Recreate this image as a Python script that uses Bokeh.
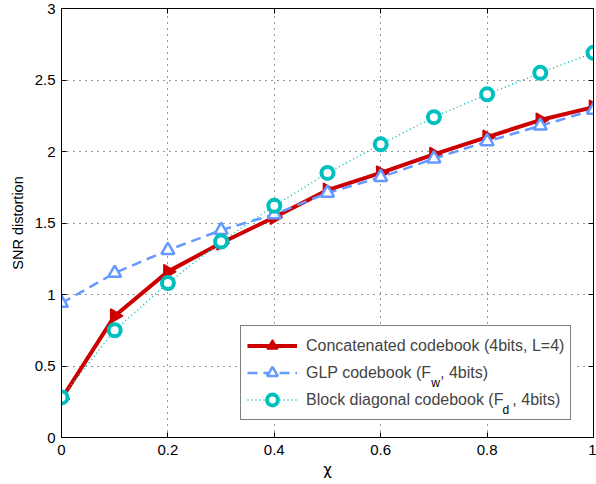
from bokeh.plotting import figure
from bokeh.models import (Range1d, FixedTicker, LinearAxis, Legend, LegendItem,
                          Label, CustomJSTickFormatter, BoxAnnotation)
from bokeh.embed import file_html
from bokeh.resources import INLINE
import numpy as np

# ---- data ----
chi = [0.0, 0.1, 0.2, 0.3, 0.4, 0.5, 0.6, 0.7, 0.8, 0.9, 1.0]
concat_snr = [0.27, 0.85, 1.16, 1.36, 1.54, 1.73, 1.85, 1.98, 2.10, 2.22, 2.31]
glp_snr = [0.94, 1.15, 1.31, 1.45, 1.56, 1.71, 1.82, 1.95, 2.07, 2.18, 2.29]
block_snr = [0.28, 0.75, 1.08, 1.37, 1.62, 1.85, 2.05, 2.24, 2.40, 2.55, 2.69]

x_ticks = [0, 0.2, 0.4, 0.6, 0.8, 1]
x_tick_labels = ["0", "0.2", "0.4", "0.6", "0.8", "1"]
y_ticks = [0, 0.5, 1, 1.5, 2, 2.5, 3]
y_tick_labels = ["0", "0.5", "1", "1.5", "2", "2.5", "3"]

label_concat = "Concatenated codebook (4bits, L=4)"
label_glp = "GLP codebook (F\u00a0\u00a0, 4bits)"
label_block = "Block diagonal codebook (F\u00a0\u00a0, 4bits)"
sub_glp = "w"
sub_block = "d"

FONT = "Liberation Sans"
RED = "#cc0000"
BLUE = "#6699ff"
CYAN = "#00bfbf"

p = figure(width=596, height=484, output_backend="svg", toolbar_location=None,
           x_range=Range1d(0, 1), y_range=Range1d(0, 3),
           min_border_left=61, min_border_right=3, min_border_top=8,
           min_border_bottom=47, x_axis_label="\u03c7", y_axis_label="SNR distortion")
p.background_fill_color = "white"
p.border_fill_color = "white"
p.outline_line_color = "black"
p.outline_line_width = 1

for ax, ticks, labels in ((p.xaxis[0], x_ticks, x_tick_labels), (p.yaxis[0], y_ticks, y_tick_labels)):
    ax.ticker = FixedTicker(ticks=ticks)
    ax.major_label_overrides = {t: l for t, l in zip(ticks, labels)}
    ax.major_tick_in = 5
    ax.major_tick_out = 0
    ax.minor_tick_in = 0
    ax.minor_tick_out = 0
    ax.axis_line_color = "black"
    ax.major_tick_line_color = "black"
    ax.major_label_text_font = FONT
    ax.major_label_text_font_size = "15px"
    ax.major_label_text_color = "black"
    ax.axis_label_text_font = FONT
    ax.axis_label_text_font_style = "normal"
    ax.axis_label_text_color = "black"

p.xaxis[0].major_label_standoff = 7
p.xaxis[0].axis_label_standoff = 3
p.xaxis[0].axis_label_text_font = "DejaVu Sans"
p.xaxis[0].axis_label_text_font_size = "15px"
p.yaxis[0].major_label_standoff = 6
p.yaxis[0].axis_label_standoff = 6
p.yaxis[0].axis_label_text_font_size = "14.5px"

blank = CustomJSTickFormatter(code="return ''")
top_ax = LinearAxis(ticker=FixedTicker(ticks=x_ticks), formatter=blank,
                    major_tick_in=5, major_tick_out=0, minor_tick_in=0, minor_tick_out=0,
                    major_label_standoff=0, axis_line_color="black",
                    major_tick_line_color="black", major_label_text_font_size="1px")
right_ax = LinearAxis(ticker=FixedTicker(ticks=y_ticks), formatter=blank,
                      major_tick_in=5, major_tick_out=0, minor_tick_in=0, minor_tick_out=0,
                      major_label_standoff=0, axis_line_color="black",
                      major_tick_line_color="black", major_label_text_font_size="1px")
p.add_layout(top_ax, "above")
p.add_layout(right_ax, "right")

for g, ticks in ((p.xgrid[0], x_ticks), (p.ygrid[0], y_ticks)):
    g.ticker = FixedTicker(ticks=ticks)
    g.grid_line_color = "black"
    g.grid_line_alpha = 0.8
    g.grid_line_dash = "1 5"
    g.grid_line_width = 1

# series
r1l = p.line(chi, concat_snr, line_color=RED, line_width=4)
r1m = p.scatter(chi, concat_snr, marker="triangle", angle=-np.pi / 2, size=14,
                fill_color=RED, line_color=RED, line_width=1.5)
r2l = p.line(chi, glp_snr, line_color=BLUE, line_width=2.5, line_dash="10 6")
r2m = p.scatter(chi, glp_snr, marker="triangle", size=13, fill_color="white",
                line_color=BLUE, line_width=2.5)
r3l = p.line(chi, block_snr, line_color=CYAN, line_width=1.5, line_dash="1 3")
r3m = p.scatter(chi, block_snr, marker="circle", size=12, fill_color="white",
                line_color=CYAN, line_width=4)

# white backing for the legend box (legend itself is transparent)
legend_bg = BoxAnnotation(left=0.337, right=0.962, top=0.769, bottom=0.119,
                          fill_color="white", fill_alpha=1, line_alpha=0,
                          level="annotation")
p.add_layout(legend_bg)

legend = Legend(items=[LegendItem(label=label_concat, renderers=[r1l, r1m]),
                       LegendItem(label=label_glp, renderers=[r2l, r2m]),
                       LegendItem(label=label_block, renderers=[r3l, r3m])],
                location=(179, 17), margin=0, padding=6, spacing=0,
                glyph_width=50, glyph_height=27, label_height=27, label_standoff=9,
                label_text_font=FONT, label_text_font_size="16px",
                border_line_color="black", border_line_width=1,
                background_fill_alpha=0)
p.add_layout(legend, "center")

sub1 = Label(x=0.695, y=0.378, text=sub_glp, text_font=FONT, text_font_size="12px",
             text_baseline="alphabetic", text_color="black")
sub2 = Label(x=0.829, y=0.192, text=sub_block, text_font=FONT, text_font_size="12px",
             text_baseline="alphabetic", text_color="black")
p.add_layout(sub1)
p.add_layout(sub2)

open("out.html", "w").write(file_html(p, INLINE))
